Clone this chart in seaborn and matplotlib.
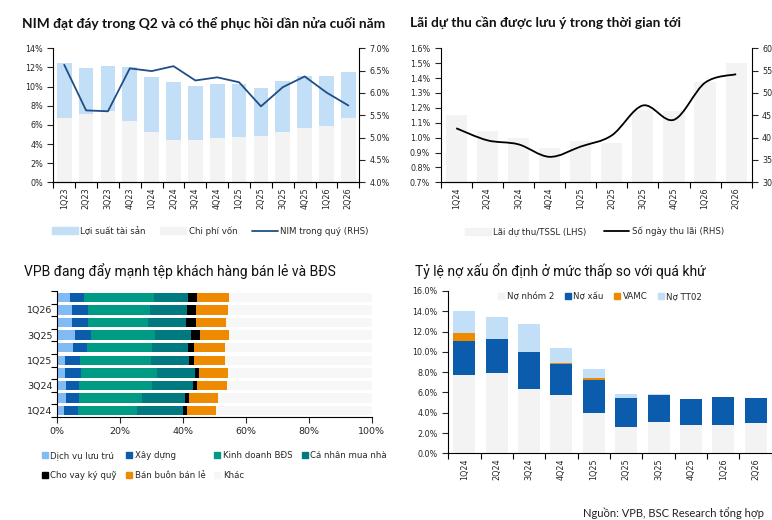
import numpy as np
import pandas as pd
import matplotlib
matplotlib.use("Agg")
import matplotlib.pyplot as plt
import seaborn as sns
from matplotlib.path import Path
from matplotlib.patches import PathPatch, Patch
from matplotlib.lines import Line2D
from matplotlib.ticker import FuncFormatter, FixedLocator

# ---------------- data ----------------
q_nim = ["1Q23", "2Q23", "3Q23", "4Q23", "1Q24", "2Q24", "3Q24", "4Q24",
         "1Q25", "2Q25", "3Q25", "4Q25", "1Q26", "2Q26"]
asset_yield = [12.47, 11.95, 12.16, 12.06, 11.01, 10.49, 10.07, 10.28,
               10.28, 9.86, 10.59, 11.11, 11.11, 11.53]
cost_of_funds = [6.72, 7.18, 7.46, 6.41, 5.26, 4.43, 4.43, 4.63,
                 4.74, 4.84, 5.26, 5.68, 5.89, 6.72]
nim_q = [6.63, 5.61, 5.59, 6.55, 6.49, 6.60, 6.28, 6.35,
         6.24, 5.70, 6.13, 6.37, 6.01, 5.72]

q10 = ["1Q24", "2Q24", "3Q24", "4Q24", "1Q25", "2Q25", "3Q25", "4Q25", "1Q26", "2Q26"]
accrued_ratio = [1.152, 1.045, 0.998, 0.931, 0.978, 0.964, 1.186, 1.179, 1.374, 1.501]
accrued_days = [42.1, 39.4, 38.5, 35.7, 38.0, 40.5, 47.2, 44.0, 52.3, 54.2]

sector_names = ["Dịch vụ lưu trú", "Xây dựng", "Kinh doanh BĐS", "Cá nhân mua nhà",
                "Cho vay ký quỹ", "Bán buôn bán lẻ", "Khác"]
s_luu_tru = [2.1, 2.8, 2.8, 2.4, 2.4, 5.0, 5.6, 4.7, 4.7, 4.0]
s_xay_dung = [4.5, 4.1, 4.1, 5.1, 4.8, 4.4, 5.1, 5.1, 5.1, 4.5]
s_bds = [18.7, 20.0, 23.2, 24.2, 22.6, 20.7, 20.4, 19.0, 19.7, 22.3]
s_mua_nha = [14.7, 13.7, 13.1, 12.1, 12.1, 11.5, 11.4, 12.1, 11.8, 10.8]
s_ky_quy = [1.3, 1.3, 1.2, 1.3, 1.6, 1.9, 2.9, 3.2, 2.8, 2.8]
s_ban_le = [9.2, 9.2, 9.6, 9.2, 9.8, 9.8, 9.2, 9.6, 10.2, 10.2]
s_khac = [49.5, 48.9, 46.0, 45.7, 46.7, 46.7, 45.4, 46.3, 45.7, 45.4]

npl_group2 = [7.72, 7.92, 6.34, 5.75, 3.97, 2.60, 3.09, 2.79, 2.79, 2.99]
npl_bad = [3.35, 3.35, 3.65, 3.05, 3.26, 2.85, 2.66, 2.56, 2.76, 2.46]
npl_vamc = [0.79, 0.0, 0.0, 0.10, 0.19, 0.0, 0.0, 0.0, 0.0, 0.0]
npl_tt02 = [2.17, 2.17, 2.76, 1.48, 0.89, 0.40, 0.10, 0.0, 0.0, 0.0]

# ---------------- style ----------------
sns.set_style("ticks")
plt.rcParams["font.family"] = ["DejaVu Sans"]
plt.rcParams["axes.edgecolor"] = "#000000"
plt.rcParams["axes.linewidth"] = 0.8

W, H = 772, 520
fig = plt.figure(figsize=(W / 100, H / 100), dpi=100)

LBLUE = "#c3dff7"
GRAY = "#f3f3f3"
NAVY = "#1f4e86"
BLUE = "#0b5cad"
ORANGE = "#ee8a00"
TICK_FS = 5.8


def rect(l, t, r, b):
    return [l / W, 1 - b / H, (r - l) / W, (b - t) / H]


def cat_ticks(ax, n, axis="x"):
    a = ax.xaxis if axis == "x" else ax.yaxis
    a.set_minor_locator(FixedLocator(np.arange(-0.5, n, 1)))
    ax.tick_params(axis=axis, which="major", length=0)
    ax.tick_params(axis=axis, which="minor", length=4, width=0.8, color="#000000")


def smooth_path(xs, ys):
    verts = [(xs[0], ys[0])]
    codes = [Path.MOVETO]
    n = len(xs)
    for i in range(n - 1):
        p0 = (xs[i - 1], ys[i - 1]) if i > 0 else (xs[i], ys[i])
        p1 = (xs[i], ys[i])
        p2 = (xs[i + 1], ys[i + 1])
        p3 = (xs[i + 2], ys[i + 2]) if i + 2 < n else p2
        c1 = (p1[0] + (p2[0] - p0[0]) / 6, p1[1] + (p2[1] - p0[1]) / 6)
        c2 = (p2[0] - (p3[0] - p1[0]) / 6, p2[1] - (p3[1] - p1[1]) / 6)
        verts += [c1, c2, p2]
        codes += [Path.CURVE4] * 3
    return Path(verts, codes)


def title_top(x, y, s):
    fig.text(x / W, 1 - y / H, s, fontsize=9.9, fontweight="bold",
             family=["Lato", "DejaVu Sans"], va="center", ha="left", color="#111111")


def title_bottom(x, y, s):
    fig.text(x / W, 1 - y / H, s, fontsize=10, fontweight="normal",
             family=["Roboto", "DejaVu Sans"], va="center", ha="left", color="#111111")


LEG_KW = dict(frameon=False, fontsize=6.2, handletextpad=0.3)

# ================= Chart 1: NIM =================
ax1 = fig.add_axes(rect(53.3, 48.3, 359.3, 182.3))
df1 = pd.DataFrame({"q": q_nim, "y": asset_yield, "c": cost_of_funds})
sns.barplot(data=df1, x="q", y="y", color=LBLUE, width=0.67, ax=ax1,
            saturation=1, edgecolor="none")
sns.barplot(data=df1, x="q", y="c", color=GRAY, width=0.67, ax=ax1,
            saturation=1, edgecolor="none")
ax1.set_ylim(0, 14)
ax1.set_yticks(np.arange(0, 15, 2))
ax1.yaxis.set_major_formatter(FuncFormatter(lambda v, p: f"{v:.0f}%"))
ax1.set_xlim(-0.5, len(q_nim) - 0.5)
ax1.set_xlabel("")
ax1.set_ylabel("")
ax1.tick_params(axis="x", labelrotation=90, labelsize=TICK_FS)
ax1.tick_params(axis="y", labelsize=TICK_FS, length=4, width=0.8)
cat_ticks(ax1, len(q_nim))
ax1.spines["top"].set_visible(False)
ax1.spines["right"].set_visible(False)

ax1b = ax1.twinx()
sns.lineplot(x=np.arange(len(q_nim)), y=nim_q, color=NAVY, lw=1.3, ax=ax1b)
ax1b.set_ylim(4.0, 7.0)
ax1b.set_yticks(np.arange(4.0, 7.01, 0.5))
ax1b.yaxis.set_major_formatter(FuncFormatter(lambda v, p: f"{v:.1f}%"))
ax1b.tick_params(axis="y", labelsize=TICK_FS, length=4, width=0.8)
ax1b.spines["top"].set_visible(False)
ax1b.spines["left"].set_visible(False)
ax1b.set_ylabel("")

title_top(22, 23, "NIM đạt đáy trong Q2 và có thể phục hồi dần nửa cuối năm")
h1 = [Patch(color=LBLUE), Patch(color=GRAY), Line2D([], [], color=NAVY, lw=1.3)]
fig.legend(h1, ["Lợi suất tài sản", "Chi phí vốn", "NIM trong quý (RHS)"],
           loc="center left", bbox_to_anchor=(44 / W, 1 - 231 / H), ncol=3,
           handlelength=3.0, handleheight=0.8, columnspacing=1.7, **LEG_KW)

# ================= Chart 2: accrued interest =================
ax2 = fig.add_axes(rect(440.7, 48.3, 751.7, 182.3))
df2 = pd.DataFrame({"q": q10, "r": accrued_ratio})
sns.barplot(data=df2, x="q", y="r", color=GRAY, width=0.68, ax=ax2,
            saturation=1, edgecolor="none")
ax2.set_ylim(0.7, 1.6)
ax2.set_yticks(np.arange(0.7, 1.601, 0.1))
ax2.yaxis.set_major_formatter(FuncFormatter(lambda v, p: f"{v:.1f}%"))
ax2.set_xlim(-0.5, len(q10) - 0.5)
ax2.set_xlabel("")
ax2.set_ylabel("")
ax2.tick_params(axis="x", labelrotation=90, labelsize=TICK_FS)
ax2.tick_params(axis="y", labelsize=TICK_FS, length=4, width=0.8)
cat_ticks(ax2, len(q10))
ax2.spines["top"].set_visible(False)
ax2.spines["right"].set_visible(False)

ax2b = ax2.twinx()
ax2b.add_patch(PathPatch(smooth_path(np.arange(len(q10)), accrued_days),
                         facecolor="none", edgecolor="#000000", lw=1.3))
ax2b.set_ylim(30, 60)
ax2b.set_yticks(np.arange(30, 61, 5))
ax2b.yaxis.set_major_formatter(FuncFormatter(lambda v, p: f"{v:.0f}"))
ax2b.tick_params(axis="y", labelsize=TICK_FS, length=4, width=0.8)
ax2b.spines["top"].set_visible(False)
ax2b.spines["left"].set_visible(False)

title_top(410, 23, "Lãi dự thu cần được lưu ý trong thời gian tới")
h2 = [Patch(color=GRAY), Line2D([], [], color="#000000", lw=1.3)]
fig.legend(h2, ["Lãi dự thu/TSSL (LHS)", "Số ngày thu lãi (RHS)"],
           loc="center left", bbox_to_anchor=(457 / W, 1 - 231.5 / H), ncol=2,
           handlelength=3.0, handleheight=0.8, columnspacing=2.0, **LEG_KW)

# ================= Chart 3: loan mix =================
ax3 = fig.add_axes(rect(57.3, 291, 371.7, 417))
sectors = [s_luu_tru, s_xay_dung, s_bds, s_mua_nha, s_ky_quy, s_ban_le, s_khac]
sector_colors = ["#80bbf5", BLUE, "#009b84", "#007a80", "#000000", ORANGE, "#f7f7f7"]
cum = np.cumsum(np.array(sectors), axis=0)
order3 = q10[::-1]
for k in range(len(sectors) - 1, -1, -1):
    d = pd.DataFrame({"q": q10, "v": cum[k]})
    sns.barplot(data=d, x="v", y="q", order=order3, orient="h",
                color=sector_colors[k], width=0.75, ax=ax3, saturation=1,
                edgecolor="none")
ax3.set_xlim(0, 100)
ax3.set_ylim(len(q10) - 0.5, -0.5)
ax3.set_xticks(np.arange(0, 101, 20))
ax3.xaxis.set_major_formatter(FuncFormatter(lambda v, p: f"{v:.0f}%"))
ax3.set_yticks(np.arange(len(q10)))
ax3.set_yticklabels([q if q in ("1Q24", "3Q24", "1Q25", "3Q25", "1Q26") else ""
                     for q in order3])
ax3.set_xlabel("")
ax3.set_ylabel("")
ax3.tick_params(axis="x", labelsize=6.8, length=4, width=0.8)
ax3.tick_params(axis="y", labelsize=6.8)
cat_ticks(ax3, len(q10), axis="y")
ax3.spines["top"].set_visible(False)
ax3.spines["right"].set_visible(False)

title_bottom(24, 271, "VPB đang đẩy mạnh tệp khách hàng bán lẻ và BĐS")
h3 = [Patch(color=c) for c in sector_colors]
idx = [0, 4, 1, 5, 2, 6, 3]
fig.legend([h3[i] for i in idx], [sector_names[i] for i in idx],
           loc="center left", bbox_to_anchor=(34 / W, 1 - 465.5 / H), ncol=4,
           handlelength=0.7, handleheight=0.7, columnspacing=1.05,
           labelspacing=1.3, **LEG_KW)

# ================= Chart 4: NPL =================
ax4 = fig.add_axes(rect(448.3, 291, 771.7, 453.3))
n_tot = np.array(npl_group2) + np.array(npl_bad) + np.array(npl_vamc) + np.array(npl_tt02)
n_vamc = np.array(npl_group2) + np.array(npl_bad) + np.array(npl_vamc)
n_bad = np.array(npl_group2) + np.array(npl_bad)
layers = [(n_tot, LBLUE), (n_vamc, ORANGE), (n_bad, BLUE), (np.array(npl_group2), GRAY)]
for vals, col in layers:
    d = pd.DataFrame({"q": q10, "v": vals})
    sns.barplot(data=d, x="q", y="v", color=col, width=0.68, ax=ax4,
                saturation=1, edgecolor="none")
ax4.set_ylim(0, 16)
ax4.set_yticks(np.arange(0, 16.1, 2))
ax4.yaxis.set_major_formatter(FuncFormatter(lambda v, p: f"{v:.1f}%"))
ax4.set_xlim(-0.5, len(q10) - 0.5)
ax4.set_xlabel("")
ax4.set_ylabel("")
ax4.tick_params(axis="x", labelrotation=90, labelsize=TICK_FS)
ax4.tick_params(axis="y", labelsize=TICK_FS, length=4, width=0.8)
cat_ticks(ax4, len(q10))
ax4.spines["top"].set_visible(False)
ax4.spines["right"].set_visible(False)
h4 = [Patch(color=GRAY), Patch(color=BLUE), Patch(color=ORANGE), Patch(color=LBLUE)]
ax4.legend(h4, ["Nợ nhóm 2", "Nợ xấu", "VAMC", "Nợ TT02"], loc="upper center",
           bbox_to_anchor=(0.47, 1.04), ncol=4, handlelength=0.7,
           handleheight=0.7, columnspacing=1.2, **LEG_KW)

title_bottom(415, 271, "Tỷ lệ nợ xấu ổn định ở mức thấp so với quá khứ")
fig.text(764 / W, 1 - 513 / H, "Nguồn: VPB, BSC Research tổng hợp", ha="right",
         va="center", fontsize=8, family=["Lato", "DejaVu Sans"], color="#222222")

fig.savefig("out.png", dpi=100)
